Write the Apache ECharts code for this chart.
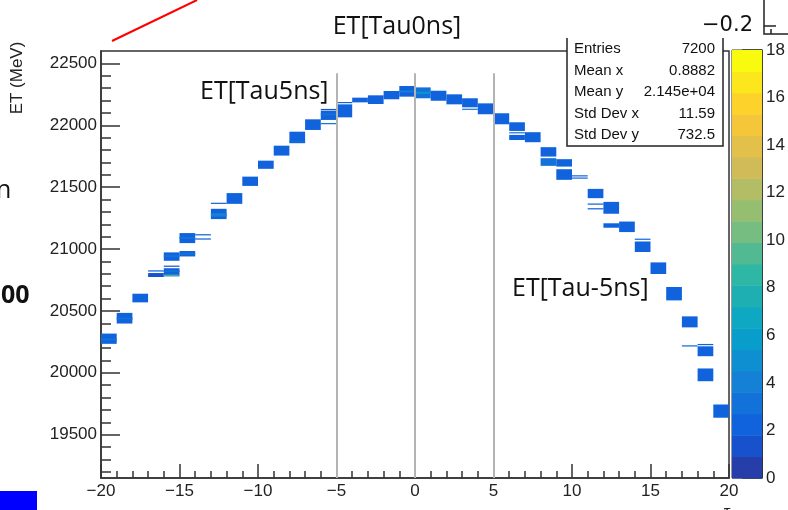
<!DOCTYPE html>
<html>
<head>
<meta charset="utf-8">
<script src="https://cdn.jsdelivr.net/npm/echarts@6/dist/echarts.min.js"></script>
<style>
  html, body { margin: 0; padding: 0; background: #fff; }
  #chart { width: 788px; height: 510px; }
</style>
</head>
<body>
<div id="chart"></div>
<script>
// Histogram cells: [tau bin low edge, ET low (MeV), ET high (MeV), entries]
const cells = [
  [-20, 20234, 20317, 2], [-20, 20262, 20278, 3],
  [-19, 20398, 20484, 2], [-19, 20430, 20448, 3],
  [-18, 20569, 20639, 2],
  [-17, 20774, 20806, 1], [-17, 20818, 20828, 2],
  [-16, 20905, 20973, 2], [-16, 20935, 20950, 3],
  [-16, 20858, 20866, 1],
  [-16, 20779, 20845, 2], [-16, 20815, 20828, 3], [-16, 20786, 20793, 9],
  [-15, 21048, 21129, 2], [-15, 21082, 21098, 3],
  [-15, 20940, 20984, 2], [-15, 20955, 20968, 3],
  [-14, 21110, 21120, 2], [-14, 21076, 21086, 2],
  [-13, 21366, 21374, 2],
  [-13, 21242, 21325, 2], [-13, 21262, 21290, 4],
  [-12, 21365, 21452, 2],
  [-11, 21510, 21585, 2],
  [-10, 21648, 21714, 2],
  [-9, 21755, 21835, 2],
  [-8, 21855, 21948, 2], [-8, 21862, 21872, 3],
  [-7, 21962, 22048, 2],
  [-6, 22124, 22132, 1],
  [-6, 22043, 22118, 2], [-6, 22080, 22095, 3],
  [-6, 22010, 22018, 3],
  [-5, 22180, 22188, 2],
  [-5, 22064, 22169, 2],
  [-4, 22185, 22223, 2],
  [-3, 22172, 22242, 2],
  [-2, 22210, 22277, 2],
  [-1, 22231, 22317, 2], [-1, 22266, 22280, 4],
  [0, 22218, 22306, 3], [0, 22252, 22272, 5],
  [1, 22198, 22279, 2],
  [2, 22169, 22250, 2],
  [3, 22145, 22218, 2], [3, 22126, 22134, 3],
  [4, 22089, 22177, 2],
  [5, 22008, 22097, 2],
  [6, 21954, 22024, 2], [6, 21936, 21944, 3], [6, 21881, 21922, 2],
  [7, 21863, 21944, 2],
  [8, 21747, 21823, 2], [8, 21672, 21734, 3],
  [9, 21666, 21726, 2], [9, 21559, 21645, 2],
  [10, 21587, 21596, 2], [10, 21569, 21578, 2],
  [11, 21411, 21486, 2], [11, 21358, 21368, 2], [11, 21320, 21330, 2],
  [12, 21285, 21381, 2], [12, 21172, 21208, 2],
  [13, 21137, 21222, 2],
  [14, 21076, 21084, 2], [14, 20976, 21061, 2],
  [15, 20798, 20892, 2],
  [16, 20585, 20693, 2],
  [17, 20367, 20456, 2], [17, 20214, 20222, 2],
  [18, 20225, 20233, 2], [18, 20134, 20214, 2], [18, 19932, 20035, 2],
  [19, 19637, 19744, 2]
];

// Axis ranges and ticks
const tauRange = [-20, 20];
const etRange = [19150, 22600];
const etMajorTicks = [19500, 20000, 20500, 21000, 21500, 22000, 22500];
const etMinorTicks = [19200, 19300, 19400, 19600, 19700, 19800, 19900, 20100, 20200, 20300, 20400,
  20600, 20700, 20800, 20900, 21100, 21200, 21300, 21400, 21600, 21700, 21800, 21900,
  22100, 22200, 22300, 22400];
const zMax = 18;
const nContours = 20;

// Reference taus marked with vertical lines
const markerTaus = [-5, 0, 5];
const markerTop = 22420;

// Statistics box
const statNames = ['Entries', 'Mean x', 'Mean y', 'Std Dev x', 'Std Dev y'];
const statValues = ['7200', '0.8882', '2.145e+04', '11.59', '732.5'];

// Bird palette (ROOT kBird)
const birdStops = [0, 0.125, 0.25, 0.375, 0.5, 0.625, 0.75, 0.875, 1];
const birdRGB = [[53,42,135],[15,92,221],[20,129,214],[6,164,202],[46,183,164],
  [135,191,119],[209,187,89],[254,200,50],[249,251,14]];
function bird(t) {
  t = Math.max(0, Math.min(1, t));
  let k = 0;
  while (k < birdStops.length - 2 && t > birdStops[k + 1]) k++;
  const f = (t - birdStops[k]) / (birdStops[k + 1] - birdStops[k]);
  const a = birdRGB[k], b = birdRGB[k + 1];
  const c = a.map((v, j) => Math.round(v + (b[j] - v) * f));
  return 'rgb(' + c.join(',') + ')';
}
function bandColor(i) { return bird((i + 1) / nContours); }
function countColor(c) {
  const i = Math.min(nContours - 1, Math.floor(c / (zMax / nContours)));
  return bandColor(i);
}
const bands = [];
for (let i = 0; i < nContours; i++) bands.push([i * zMax / nContours, (i + 1) * zMax / nContours, i]);

const minus = v => String(v).replace('-', '\u2212');
const plain = v => String(v);
const axisColor = '#333';
const labelFont = { fontFamily: 'Liberation Sans', fontSize: 17, color: '#222' };

const chart = echarts.init(document.getElementById('chart'), null, { renderer: 'canvas' });

const option = {
  animation: false,
  backgroundColor: '#fff',
  grid: [
    { left: 101, right: 59, top: 51, bottom: 32, show: true, borderColor: axisColor, borderWidth: 1.5, backgroundColor: '#fff' },
    { left: 732, width: 36, top: 50, bottom: 32, show: true, borderColor: axisColor, borderWidth: 1 }
  ],
  xAxis: [
    {
      type: 'value', gridIndex: 0, min: tauRange[0], max: tauRange[1], interval: 5,
      axisLine: { onZero: false, lineStyle: { color: axisColor, width: 1.5 } },
      axisTick: { inside: true, length: 14, lineStyle: { color: axisColor, width: 1.5 } },
      minorTick: { show: true, splitNumber: 5, length: 7, lineStyle: { color: axisColor, width: 1.5 } },
      axisLabel: Object.assign({ margin: 5, formatter: minus }, labelFont),
      splitLine: { show: false }
    },
    { type: 'value', gridIndex: 1, min: 0, max: 1, show: false }
  ],
  yAxis: [
    {
      type: 'value', gridIndex: 0, min: etRange[0], max: etRange[1], position: 'left',
      axisLine: { onZero: false, lineStyle: { color: axisColor, width: 1.5 } },
      axisTick: { inside: true, length: 19, customValues: etMajorTicks, lineStyle: { color: axisColor, width: 1.5 } },
      axisLabel: Object.assign({ margin: 4, customValues: etMajorTicks, formatter: plain }, labelFont),
      splitLine: { show: false }
    },
    {
      type: 'value', gridIndex: 0, min: etRange[0], max: etRange[1], position: 'left', offset: 0,
      axisLine: { show: false, onZero: false },
      axisTick: { inside: true, length: 10, customValues: etMinorTicks, lineStyle: { color: axisColor, width: 1.5 } },
      axisLabel: { show: false },
      splitLine: { show: false }
    },
    {
      type: 'value', gridIndex: 1, min: 0, max: zMax, interval: 2, position: 'right',
      axisLine: { show: true, onZero: false, lineStyle: { color: axisColor, width: 1 } },
      axisTick: { inside: true, length: 20, lineStyle: { color: axisColor, width: 1.5 } },
      axisLabel: Object.assign({ margin: 4 }, labelFont),
      splitLine: { show: false }
    }
  ],
  series: [
    {
      type: 'custom',
      xAxisIndex: 0, yAxisIndex: 0,
      data: cells,
      encode: { x: [0], y: [1, 2] },
      clip: true,
      renderItem: function (params, api) {
        const x0 = api.value(0), lo = api.value(1), hi = api.value(2);
        const p0 = api.coord([x0, hi]);
        const p1 = api.coord([x0 + 1, lo]);
        return {
          type: 'rect',
          shape: { x: p0[0], y: p0[1], width: p1[0] - p0[0], height: Math.max(1.2, p1[1] - p0[1]) },
          style: { fill: countColor(api.value(3)) }
        };
      },
      z: 2
    },
    {
      type: 'line',
      xAxisIndex: 0, yAxisIndex: 0,
      data: [],
      markLine: {
        silent: true, symbol: 'none', label: { show: false },
        lineStyle: { color: '#b4b4b4', width: 2, type: 'solid' },
        data: markerTaus.map(t => [{ coord: [t, etRange[0]] }, { coord: [t, markerTop] }])
      },
      z: 3
    },
    {
      type: 'custom',
      xAxisIndex: 1, yAxisIndex: 2,
      data: bands,
      encode: { y: [0, 1] },
      renderItem: function (params, api) {
        const p0 = api.coord([0, api.value(1)]);
        const p1 = api.coord([1, api.value(0)]);
        return {
          type: 'rect',
          shape: { x: p0[0], y: p0[1], width: p1[0] - p0[0], height: p1[1] - p0[1] + 0.5 },
          style: { fill: bandColor(api.value(2)) }
        };
      },
      z: 1
    }
  ],
  graphic: [
    // y-axis title
    { type: 'text', x: 17, y: 78, rotation: Math.PI / 2, z: 50,
      style: { text: 'ET (MeV)', font: '17px "Liberation Sans"', fill: '#222', textAlign: 'center', textVerticalAlign: 'middle' } },
    // titles
    { type: 'text', x: 397, y: 27, z: 50,
      style: { text: 'ET[Tau0ns]', font: '25px "Open Sans"', fill: '#111', textAlign: 'center', textVerticalAlign: 'middle' } },
    { type: 'text', x: 200, y: 92, z: 50,
      style: { text: 'ET[Tau5ns]', font: '25px "Open Sans"', fill: '#111', textAlign: 'left', textVerticalAlign: 'middle' } },
    { type: 'text', x: 512, y: 289, z: 50,
      style: { text: 'ET[Tau-5ns]', font: '25px "Open Sans"', fill: '#111', textAlign: 'left', textVerticalAlign: 'middle' } },
    // statistics box
    { type: 'rect', z: 60, shape: { x: 567, y: 38, width: 156, height: 108 }, style: { fill: '#fff' } },
    { type: 'polyline', z: 61, shape: { points: [[567, 38], [567, 146], [723, 146], [723, 38]] },
      style: { stroke: '#222', lineWidth: 1.5, fill: null } },
    ...statNames.map((n, i) => ({ type: 'text', x: 574, y: 49 + i * 21.5, z: 62,
      style: { text: n, font: '15px "Liberation Sans"', fill: '#111', textAlign: 'left', textVerticalAlign: 'middle' } })),
    ...statValues.map((v, i) => ({ type: 'text', x: 715, y: 49 + i * 21.5, z: 62,
      style: { text: v, font: '15px "Liberation Sans"', fill: '#111', textAlign: 'right', textVerticalAlign: 'middle' } })),
    // neighbouring panel fragments
    { type: 'line', z: 50, shape: { x1: 112, y1: 41, x2: 197, y2: 0 }, style: { stroke: '#ff0000', lineWidth: 2 } },
    { type: 'rect', z: 50, shape: { x: 0, y: 491, width: 37, height: 19 }, style: { fill: '#0000ff' } },
    { type: 'text', x: 1, y: 296, z: 50,
      style: { text: '00', font: 'bold 25px "Open Sans"', fill: '#111', textAlign: 'left', textVerticalAlign: 'middle' } },
    { type: 'text', x: -4, y: 191, z: 50,
      style: { text: 'n', font: '25px "Open Sans"', fill: '#111', textAlign: 'left', textVerticalAlign: 'middle' } },
    { type: 'text', x: 753, y: 26, z: 50,
      style: { text: '\u22120.2', font: '21px "DejaVu Sans"', fill: '#111', textAlign: 'right', textVerticalAlign: 'middle' } },
    { type: 'polyline', z: 50, shape: { points: [[764, 0], [764, 34], [788, 34]] }, style: { stroke: '#222', lineWidth: 1.5, fill: null } },
    { type: 'line', z: 50, shape: { x1: 764, y1: 26, x2: 776, y2: 26 }, style: { stroke: '#222', lineWidth: 1.5 } },
    { type: 'line', z: 50, shape: { x1: 771, y1: 29, x2: 771, y2: 34 }, style: { stroke: '#222', lineWidth: 1.5 } },
    { type: 'text', x: 727, y: 504, z: 50,
      style: { text: '\u03c4', font: '17px "Liberation Sans"', fill: '#222', textAlign: 'center', textVerticalAlign: 'top' } }
  ]
};
chart.setOption(option);
</script>
</body>
</html>
